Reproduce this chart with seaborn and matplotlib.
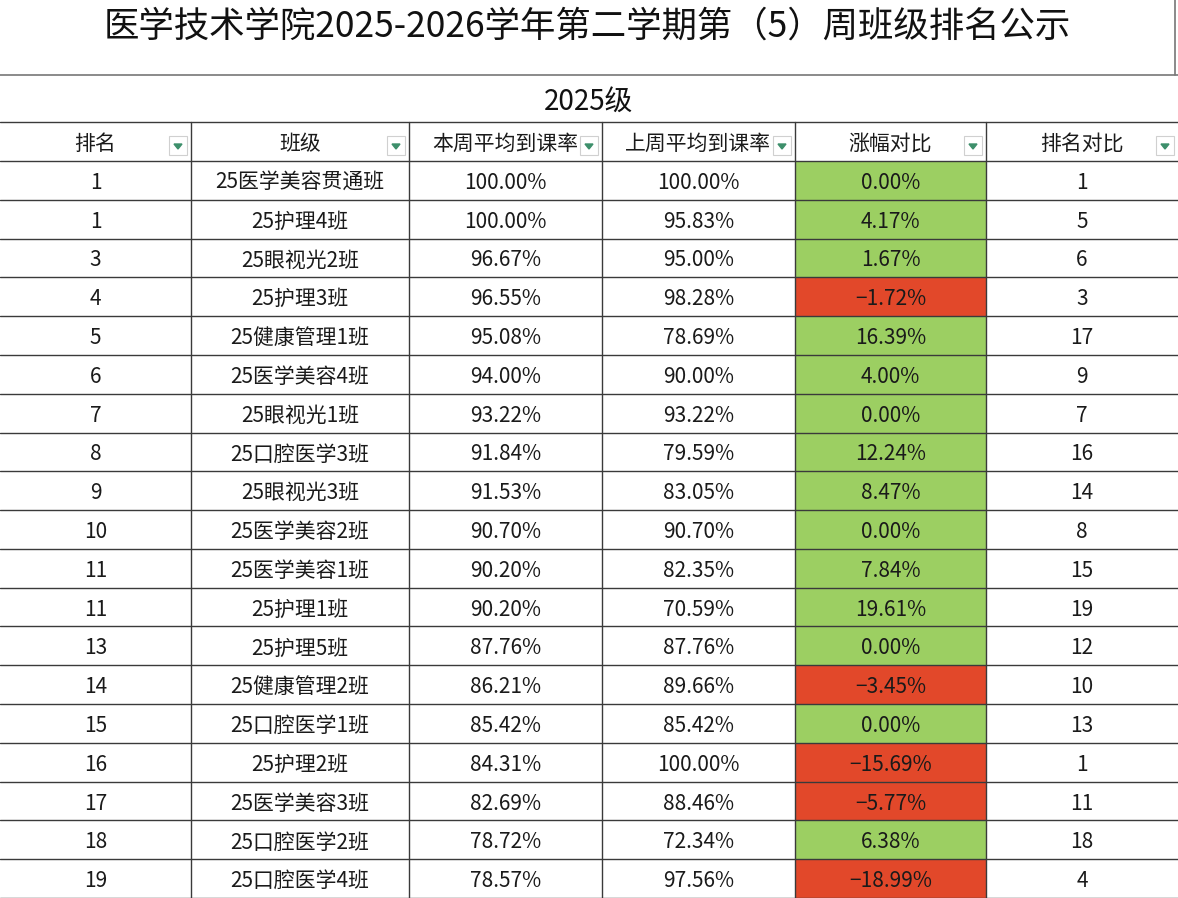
import matplotlib.pyplot as plt
import seaborn as sns
import numpy as np
from matplotlib.colors import ListedColormap
from matplotlib.patches import Rectangle, Polygon

sns.set_theme(style='white')
plt.rcParams['font.family'] = ['Noto Sans CJK SC', 'DejaVu Sans']

title = '医学技术学院2025-2026学年第二学期第（5）周班级排名公示'
grade = '2025级'
headers = ['排名', '班级', '本周平均到课率', '上周平均到课率', '涨幅对比', '排名对比']

rank = [1, 1, 3, 4, 5, 6, 7, 8, 9, 10, 11, 11, 13, 14, 15, 16, 17, 18, 19]
classes = ['25医学美容贯通班', '25护理4班', '25眼视光2班', '25护理3班', '25健康管理1班',
           '25医学美容4班', '25眼视光1班', '25口腔医学3班', '25眼视光3班', '25医学美容2班',
           '25医学美容1班', '25护理1班', '25护理5班', '25健康管理2班', '25口腔医学1班',
           '25护理2班', '25医学美容3班', '25口腔医学2班', '25口腔医学4班']
this_week = [100.00, 100.00, 96.67, 96.55, 95.08, 94.00, 93.22, 91.84, 91.53, 90.70,
             90.20, 90.20, 87.76, 86.21, 85.42, 84.31, 82.69, 78.72, 78.57]
last_week = [100.00, 95.83, 95.00, 98.28, 78.69, 90.00, 93.22, 79.59, 83.05, 90.70,
             82.35, 70.59, 87.76, 89.66, 85.42, 100.00, 88.46, 72.34, 97.56]
change = [0.00, 4.17, 1.67, -1.72, 16.39, 4.00, 0.00, 12.24, 8.47, 0.00,
          7.84, 19.61, 0.00, -3.45, 0.00, -15.69, -5.77, 6.38, -18.99]
last_rank = [1, 5, 6, 3, 17, 9, 7, 16, 14, 8, 15, 19, 12, 10, 13, 1, 11, 18, 4]

W, H = 1178, 898
col_x = [0, 191, 409, 602, 795, 986, 1178]
hdr_top, body_top = 122, 161
row_h = (H - body_top) / len(rank)
line_c = '#3a3a3a'
txt_c = '#1a1a1a'
dy = 2.5  # CJK font sits a little high

fig = plt.figure(figsize=(W / 100, H / 100), dpi=100)
ax = fig.add_axes([0, 0, 1, 1])
ax.set_xlim(0, W)
ax.set_ylim(H, 0)
ax.axis('off')

# change column as a seaborn heatmap
hax = fig.add_axes([col_x[4] / W, 0, (col_x[5] - col_x[4]) / W, (H - body_top) / H])
sign = np.array([[1 if c >= 0 else 0] for c in change])
sns.heatmap(sign, ax=hax, cmap=ListedColormap(['#e2482a', '#9ccf62']), vmin=0, vmax=1,
            cbar=False, xticklabels=False, yticklabels=False)
hax.set_zorder(0)
ax.set_zorder(1)
ax.patch.set_alpha(0)

# title and grade rows
ax.text(W / 2 - 2, 27, title, ha='center', va='center', fontsize=25.5, color='#111')
ax.text(W / 2, 103, grade, ha='center', va='center', fontsize=20, color='#111')
ax.plot([0, W], [75, 75], color='#777', lw=1.2)
ax.plot([W - 3, W - 3], [0, 75], color='#777', lw=1.2)
ax.plot([0, W], [hdr_top, hdr_top], color=line_c, lw=1)

# grid lines
for y in [body_top] + [body_top + row_h * (i + 1) for i in range(len(rank))]:
    ax.plot([0, W], [y, y], color=line_c, lw=1)
for x in col_x[1:-1]:
    ax.plot([x, x], [hdr_top, H], color=line_c, lw=1)

# headers with filter buttons
for i, h in enumerate(headers):
    cx = (col_x[i] + col_x[i + 1]) / 2
    yc = (hdr_top + body_top) / 2 + dy
    ax.text(cx, yc, h, ha='center', va='center', fontsize=15, color=txt_c)
    bx, by = col_x[i + 1] - 22, hdr_top + 14
    ax.add_patch(Rectangle((bx, by), 18, 19, facecolor='white', edgecolor='#d0d0d0', lw=0.8))
    ax.add_patch(Polygon([[bx + 5, by + 8], [bx + 13, by + 8], [bx + 9, by + 13]],
                         closed=True, color='#3d8f6b'))

# body text
for r in range(len(rank)):
    yc = body_top + row_h * (r + 0.5) + dy
    vals = [str(rank[r]), classes[r], f'{this_week[r]:.2f}%', f'{last_week[r]:.2f}%',
            f'{change[r]:.2f}%'.replace('-', '−'), str(last_rank[r])]
    for i, v in enumerate(vals):
        cx = (col_x[i] + col_x[i + 1]) / 2
        ax.text(cx, yc, v, ha='center', va='center', fontsize=15, color=txt_c)

fig.savefig('out.png', dpi=100)
